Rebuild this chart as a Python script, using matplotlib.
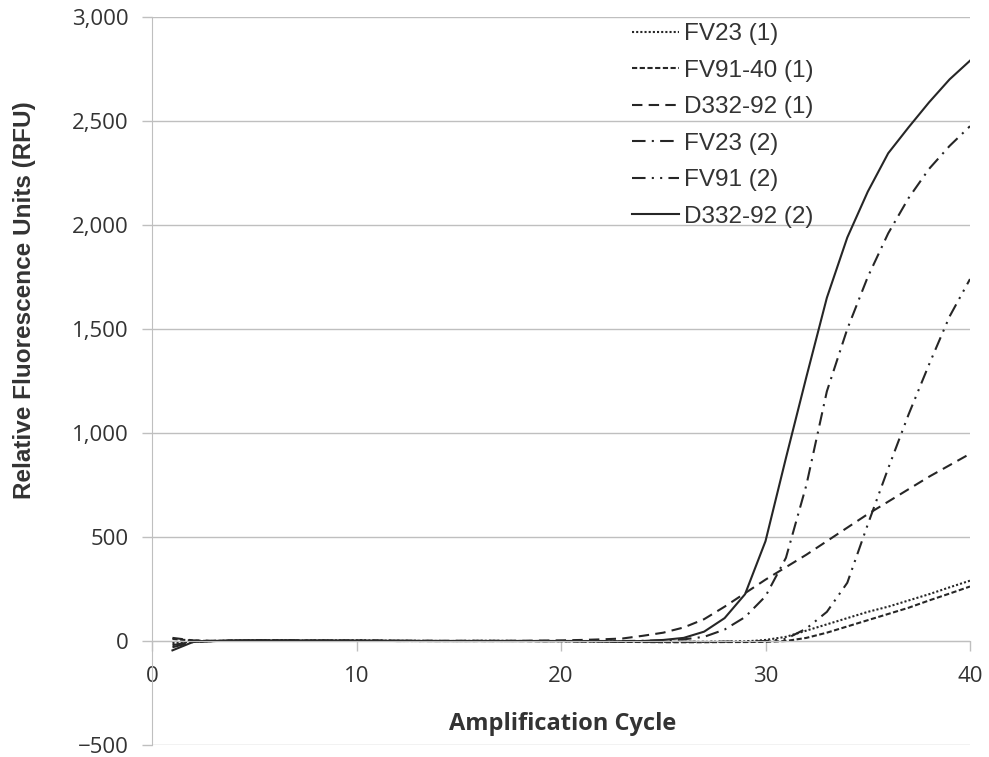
import numpy as np
from matplotlib import pyplot as plt
from matplotlib.ticker import FuncFormatter

# amplification cycles 1..40
cycles = np.arange(1, 41)

fv23_1 = [-10, -3, 0, 2, 3, 3, 2, 2, 3, 3, 2, 1, 1, 0, 0, 1, 1, 0, 0, 0,
          -1, -2, -3, -3, -4, -4, -4, -3, -2, 5, 20, 50, 80, 110, 140, 165, 195, 225, 258, 290]
fv91_40_1 = [10, 2, 0, 1, 2, 2, 2, 1, 1, 1, 1, 0, 0, 0, 0, 0, 0, 0, -1, -1,
             -2, -3, -4, -5, -6, -6, -6, -5, -5, -4, 0, 15, 40, 70, 100, 130, 160, 195, 228, 262]
d332_92_1 = [15, 3, 1, 2, 3, 3, 3, 2, 2, 2, 2, 1, 1, 1, 1, 1, 1, 1, 2, 3,
             5, 8, 12, 25, 40, 65, 105, 165, 230, 295, 355, 415, 480, 545, 610, 670, 730, 790, 845, 900]
fv23_2 = [-30, -5, 0, 2, 3, 3, 2, 2, 2, 2, 1, 1, 1, 0, 0, 0, 0, 0, 0, 0,
          0, 0, 0, 1, 3, 8, 20, 55, 115, 215, 400, 750, 1200, 1500, 1750, 1960, 2130, 2270, 2380, 2475]
fv91_2 = [-20, -3, 0, 1, 2, 2, 2, 1, 1, 1, 1, 0, 0, 0, 0, 0, 0, 0, 0, -1,
          -2, -3, -3, -4, -4, -4, -4, -3, -2, 0, 10, 60, 140, 280, 560, 830, 1090, 1330, 1560, 1740]
d332_92_2 = [-45, -5, 0, 2, 3, 3, 2, 2, 2, 1, 1, 1, 0, 0, 0, 0, 0, 0, 0, 0,
             0, -1, -2, 0, 5, 15, 45, 110, 225, 480, 880, 1270, 1650, 1940, 2160, 2345, 2470, 2590, 2700, 2790]

labels = ["FV23 (1)", "FV91-40 (1)", "D332-92 (1)", "FV23 (2)", "FV91 (2)", "D332-92 (2)"]
series = [fv23_1, fv91_40_1, d332_92_1, fv23_2, fv91_2, d332_92_2]
styles = [(0, (1, 1)),
          (0, (2.5, 1.2)),
          (0, (5, 3)),
          (0, (6.5, 3, 1, 3)),
          (0, (6.5, 3, 1, 3, 1, 3)),
          '-']

fig = plt.figure(figsize=(9.89, 7.57), dpi=100)
ax = fig.add_axes([152 / 989, 12 / 757, (970 - 152) / 989, (745 - 17) / 757])

line_col = '#262626'
grid_col = '#bfbfbf'
text_col = '#333333'

for vals, lab, ls in zip(series, labels, styles):
    ax.plot(cycles, vals, color=line_col, lw=1.5, linestyle=ls, label=lab)

ax.set_xlim(0, 40)
ax.set_ylim(-500, 3000)
ax.set_xticks([0, 10, 20, 30, 40])
ax.set_yticks(np.arange(-500, 3001, 500))
ax.yaxis.set_major_formatter(FuncFormatter(lambda v, p: f"{int(v):,}".replace("-", "\u2212")))
ax.grid(axis='y', color=grid_col, lw=1.0)
ax.set_axisbelow(True)

for s in ['top', 'right']:
    ax.spines[s].set_visible(False)
ax.spines['bottom'].set_position(('data', 0))
ax.spines['bottom'].set_color(grid_col)
ax.spines['left'].set_color(grid_col)
ax.tick_params(axis='both', colors=grid_col, length=7, width=1.0,
               labelcolor=text_col, labelsize=16)
ax.tick_params(axis='x', pad=11)
ax.tick_params(axis='y', pad=10)
for t in ax.get_xticklabels() + ax.get_yticklabels():
    t.set_fontfamily('Open Sans')

fig.text(563 / 989, 1 - 724 / 757, "Amplification Cycle", ha='center', va='center',
         fontsize=17, fontweight='bold', family='Open Sans', color=text_col)
fig.text(25 / 989, 1 - 300 / 757, "Relative Fluorescence Units (RFU)", ha='center', va='center',
         rotation=90, fontsize=17.5, fontweight='bold', family='Liberation Sans', color=text_col)

leg = ax.legend(loc='upper left', bbox_to_anchor=(632 / 989, 1 - 23 / 757),
                bbox_transform=fig.transFigure, frameon=False,
                prop={'family': 'Liberation Sans', 'size': 17.5},
                handlelength=1.95, handletextpad=0.2, labelspacing=0.6,
                borderpad=0, borderaxespad=0)
for t in leg.get_texts():
    t.set_color(text_col)

fig.savefig('out.png', dpi=100)
